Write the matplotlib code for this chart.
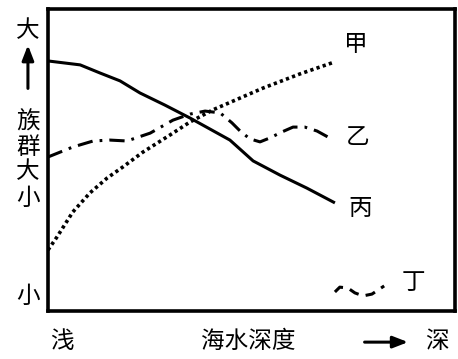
import matplotlib
matplotlib.use("Agg")
import matplotlib.pyplot as plt

plt.rcParams['font.family'] = ['Noto Sans CJK SC', 'DejaVu Sans']

# depth (0 = shallow, 10 = deep), population size (0 = small, 10 = large)
jia_x = [0.0, 0.22, 0.61, 1.03, 1.45, 1.84, 2.33, 3.00, 3.49, 4.05, 5.28, 6.19, 7.05]
jia_y = [2.02, 2.45, 3.28, 3.91, 4.40, 4.77, 5.26, 5.83, 6.26, 6.66, 7.38, 7.85, 8.25]

yi_x = [0.0, 0.61, 1.11, 1.52, 1.94, 2.51, 3.07, 3.49, 3.86, 4.23, 4.52, 4.72, 4.96, 5.21, 5.45, 5.75, 6.02, 6.31, 6.61, 6.88]
yi_y = [5.10, 5.43, 5.63, 5.66, 5.63, 5.89, 6.32, 6.52, 6.62, 6.56, 6.23, 5.96, 5.70, 5.60, 5.73, 5.93, 6.09, 6.09, 5.96, 5.76]

bing_x = [0.0, 0.79, 1.28, 1.77, 2.26, 2.87, 3.49, 4.47, 5.04, 5.70, 6.36, 7.05]
bing_y = [8.28, 8.15, 7.88, 7.62, 7.22, 6.82, 6.39, 5.66, 4.97, 4.50, 4.07, 3.58]

ding_x = [7.05, 7.17, 7.37, 7.54, 7.74, 7.96, 8.26]
ding_y = [0.63, 0.79, 0.76, 0.60, 0.50, 0.56, 0.83]

series_names = ['甲', '乙', '丙', '丁']
y_labels_top = '大'
y_labels_mid = ['族', '群', '大', '小']
y_labels_bottom = '小'
x_label_left = '浅'
x_label_mid = '海水深度'
x_label_right = '深'

fig = plt.figure(figsize=(4.58, 3.59), dpi=100)
ax = fig.add_axes([0.1048, 0.1337, 0.8886, 0.8412])
ax.set_xlim(0, 10)
ax.set_ylim(0, 10)
ax.set_xticks([])
ax.set_yticks([])
for s in ax.spines.values():
    s.set_linewidth(2.6)
    s.set_color('black')

lw = 2.2
ax.plot(jia_x, jia_y, color='black', lw=2.6, linestyle=(0, (0.9, 0.9)), dash_capstyle='butt')
ax.plot(yi_x, yi_y, color='black', lw=lw, linestyle=(0, (5.0, 2.3, 0.9, 2.3)), dash_capstyle='butt')
ax.plot(bing_x, bing_y, color='black', lw=lw, solid_capstyle='butt', solid_joinstyle='round')
ax.plot(ding_x, ding_y, color='black', lw=lw, linestyle=(0, (3.3, 2.4)), dash_capstyle='butt')

fs = 17
tk = dict(ha='center', va='center', fontsize=fs, fontweight='light', color='black')
label_pos = [(7.57, 8.81), (7.62, 5.76), (7.67, 3.41), (8.97, 0.93)]
for name, (lx, ly) in zip(series_names, label_pos):
    ax.text(lx, ly, name, **tk)

fig.text(0.061, 0.916, y_labels_top, **tk)
fig.text(0.061, 0.173, y_labels_bottom, **tk)
for lab, yy in zip(y_labels_mid, [0.660, 0.588, 0.521, 0.448]):
    fig.text(0.061, yy, lab, **tk)
arrow_props = dict(arrowstyle='-|>,head_length=0.9,head_width=0.35', color='black', lw=2.2)
ax.annotate('', xy=(0.061, 0.882), xytext=(0.061, 0.746), xycoords='figure fraction',
            textcoords='figure fraction', arrowprops=arrow_props, annotation_clip=False)

fig.text(0.135, 0.050, x_label_left, **tk)
fig.text(0.541, 0.050, x_label_mid, **tk)
fig.text(0.954, 0.050, x_label_right, **tk)
ax.annotate('', xy=(0.897, 0.047), xytext=(0.790, 0.047), xycoords='figure fraction',
            textcoords='figure fraction', arrowprops=arrow_props, annotation_clip=False)

fig.savefig('out.png', dpi=100)
